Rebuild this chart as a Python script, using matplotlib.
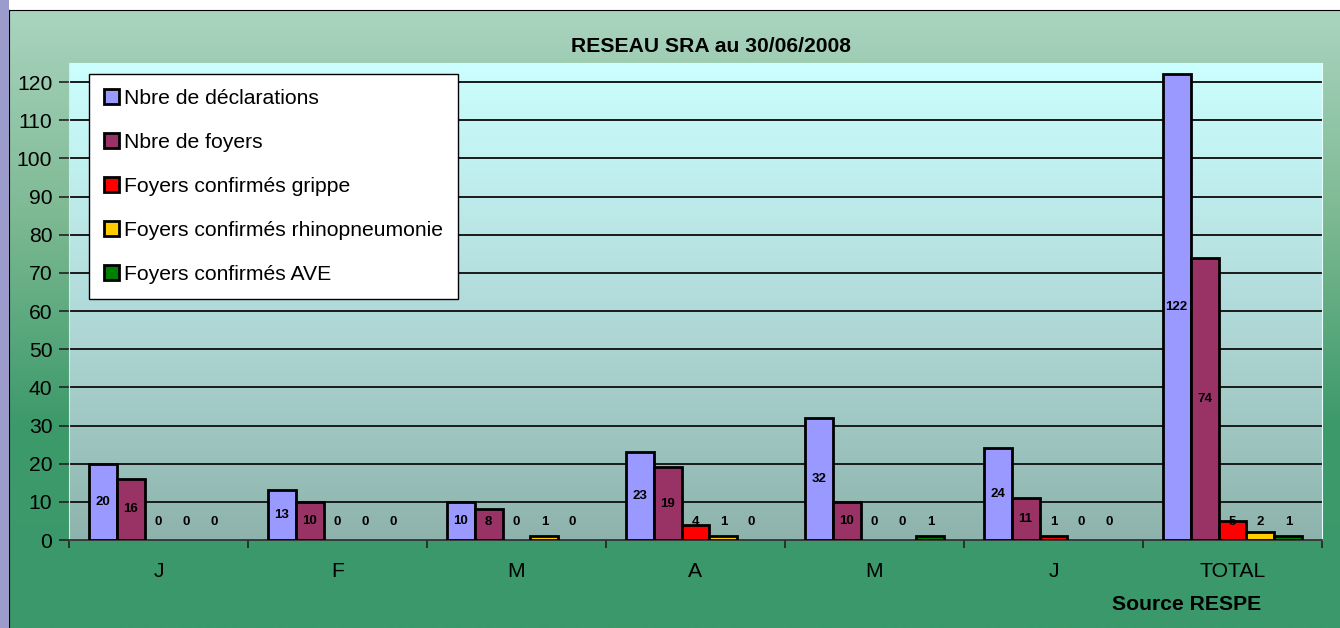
import numpy as np
import matplotlib
matplotlib.use('Agg')
import matplotlib.pyplot as plt
from matplotlib.patches import Patch, Rectangle
from matplotlib.colors import LinearSegmentedColormap

plt.rcParams['font.family'] = ['Liberation Sans', 'DejaVu Sans']

# ---- data ----
mois = ['J', 'F', 'M', 'A', 'M', 'J', 'TOTAL']
series_names = ['Nbre de déclarations', 'Nbre de foyers', 'Foyers confirmés grippe',
                'Foyers confirmés rhinopneumonie', 'Foyers confirmés AVE']
declarations = [20, 13, 10, 23, 32, 24, 122]
foyers = [16, 10, 8, 19, 10, 11, 74]
grippe = [0, 0, 0, 4, 0, 1, 5]
rhino = [0, 0, 1, 1, 0, 0, 2]
ave = [0, 0, 0, 0, 1, 0, 1]
couleurs = ['#9999ff', '#993366', '#ff0000', '#ffcc00', '#008000']

W, H = 1340, 628
fig = plt.figure(figsize=(W / 100, H / 100), dpi=100)
fig.patch.set_facecolor('white')

# left lavender strip
fig.patches.append(Rectangle((0, 0), 8.5 / W, 1, transform=fig.transFigure,
                             facecolor='#9c9ccc', edgecolor='none'))

# chart area green gradient
bg = fig.add_axes([9 / W, 0, 1 - 9 / W, (H - 10) / H])
green = LinearSegmentedColormap.from_list('g', ['#aad4bf', '#7db993', '#3d9a6b', '#3a986a'])
grad = np.linspace(0, 1, 256).reshape(-1, 1)
bg.imshow(grad, cmap=green, aspect='auto', extent=(0, 1, 0, 1), origin='upper')
bg.set_xlim(0, 1)
bg.set_ylim(0, 1)
bg.set_xticks([])
bg.set_yticks([])
for s in ['right', 'bottom']:
    bg.spines[s].set_visible(False)
bg.spines['left'].set_color('black')
bg.spines['top'].set_color('black')

# plot area
x0, x1, ytop, ybot = 69, 1322, 63, 540
ax = fig.add_axes([x0 / W, (H - ybot) / H, (x1 - x0) / W, (ybot - ytop) / H])
ax.set_facecolor('none')
cyan = LinearSegmentedColormap.from_list('c', ['#ccffff', '#b2dcdb', '#8eb3ac'])
ax.imshow(grad, cmap=cyan, aspect='auto', extent=(-0.5, 6.5, 0, 125), origin='upper', zorder=0)
ax.set_xlim(-0.5, 6.5)
ax.set_ylim(0, 125)

ax.set_yticks(np.arange(0, 121, 10))
for v in np.arange(10, 121, 10):
    ax.axhline(v, color='#1a1a1a', lw=1.4, zorder=1)

data = [declarations, foyers, grippe, rhino, ave]
x = np.arange(len(mois))
bw = 0.156
for i, (vals, col) in enumerate(zip(data, couleurs)):
    pos = x + (i - 2) * bw
    lw = [2.0 if v > 0 else 0 for v in vals]
    ax.bar(pos, vals, width=bw, color=col, edgecolor='black', linewidth=lw, zorder=3)
    for px, v in zip(pos, vals):
        ax.text(px, max(v / 2, 4.8), str(v), ha='center', va='center',
                fontsize=9.5, fontweight='bold', zorder=4)

fs = 15.2
ax.set_xticks(x)
ax.set_xticklabels(mois, fontsize=fs)
ax.set_xticks(np.arange(-0.5, 7, 1), minor=True)
ax.tick_params(axis='x', which='major', length=0, pad=16)
ax.tick_params(axis='x', which='minor', length=6, width=1.2, color='#222222')
ax.tick_params(axis='y', length=7, width=1.2, color='#222222', labelsize=fs, pad=5)

ax.spines['top'].set_visible(False)
ax.spines['right'].set_color('#e8ffff')
ax.spines['left'].set_color('#d8e8e8')
ax.spines['bottom'].set_color('#333333')
ax.spines['bottom'].set_linewidth(1.3)

fig.text(711 / W, 1 - 47 / H, 'RESEAU SRA au 30/06/2008', ha='center', va='center',
         fontsize=fs, fontweight='bold')
fig.text(1187 / W, 1 - 605 / H, 'Source RESPE', ha='center', va='center',
         fontsize=fs, fontweight='bold')

handles = [Patch(facecolor=c, edgecolor='black', linewidth=2) for c in couleurs]
leg = fig.legend(handles, series_names, loc='upper left',
                 bbox_to_anchor=(89 / W, 1 - 74 / H), borderaxespad=0,
                 fontsize=fs, handlelength=0.7, handleheight=0.7, handletextpad=0.25,
                 labelspacing=1.19, borderpad=0.7, fancybox=False, framealpha=1,
                 edgecolor='black')
leg.get_frame().set_linewidth(1)

fig.savefig('out.png', dpi=100)
